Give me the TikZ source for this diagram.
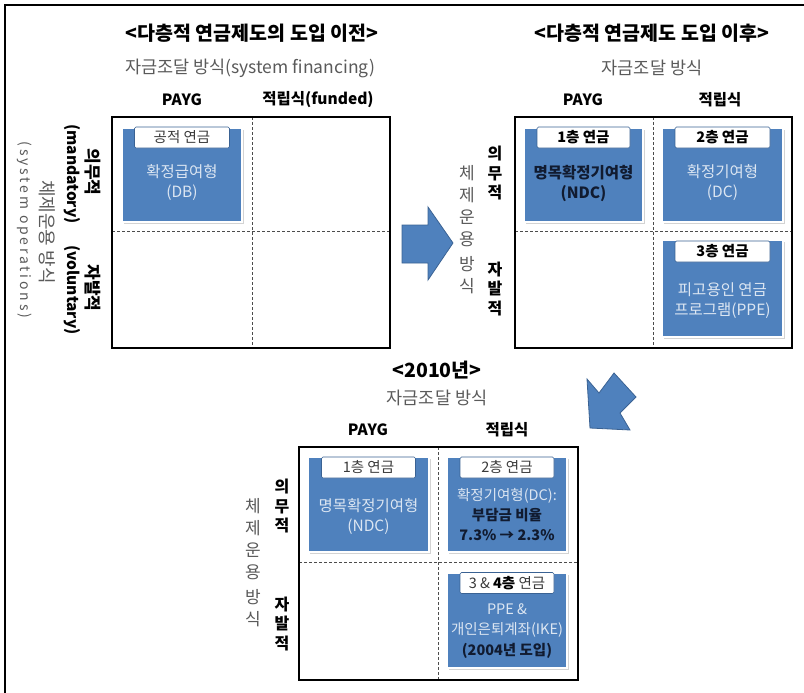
\documentclass[tikz,border=0pt]{standalone}
\usepackage{fontspec}
\setmainfont{Noto Sans CJK KR}
\usetikzlibrary{shadows}
\definecolor{pblue}{HTML}{4F81BD}
\definecolor{pborder}{HTML}{3A6293}
\definecolor{lighttxt}{HTML}{DCE6F2}
\definecolor{darktxt}{HTML}{111B30}
\definecolor{graytxt}{HTML}{5A5A5A}
\definecolor{tabtxt}{HTML}{3A3A3A}
\begin{document}
\begin{tikzpicture}[x=1pt,y=-1pt,
  titletext/.style={font=\bfseries\fontsize{19.5}{22}\selectfont, inner sep=0},
  subtitle/.style={font=\fontsize{17.5}{20}\selectfont, text=graytxt, inner sep=0},
  colhead/.style={font=\bfseries\fontsize{15.5}{18}\selectfont, inner sep=0},
  gridbox/.style={draw=black, line width=2.4pt, inner sep=0},
  divider/.style={draw=black!70, dash pattern=on 3pt off 2pt, line width=0.8pt},
  bluebox/.style={fill=pblue, draw=white, line width=1.2pt, inner sep=0,
     drop shadow={shadow xshift=1.5pt, shadow yshift=-1.8pt, opacity=0.35}},
  tabbox/.style={fill=white, draw=pborder, line width=0.6pt, rounded corners=1.5pt, inner sep=0,
     minimum height=21, font=\fontsize{14.5}{16}\selectfont, text=tabtxt},
  tabbold/.style={tabbox, font=\bfseries\fontsize{14.5}{16}\selectfont, text=black},
  bodylight/.style={text=lighttxt, align=center, inner sep=0, font=\fontsize{15.5}{20}\selectfont},
  bodydark/.style={text=darktxt, align=center, inner sep=0, font=\bfseries\fontsize{15.5}{20}\selectfont},
  vbold/.style={align=center, inner sep=0, font=\bfseries\fontsize{16}{19.5}\selectfont},
  vgray/.style={align=center, inner sep=0, text=graytxt, font=\fontsize{17}{22}\selectfont},
  bigarrow/.style={fill=pblue, draw=pborder, line width=0.8pt, line join=miter}
]
\useasboundingbox (0,0) rectangle (804,693);
\draw[line width=2.4pt] (5,693) -- (5,5) -- (804,5);

% ---------------- panel 1 ----------------
\node[titletext] (t1) at (252,33) {<다층적 연금제도의 도입 이전>};
\node[subtitle] (s1) at (250,68) {자금조달 방식(system financing)};
\node[colhead] (h1a) at (182,100) {PAYG};
\node[colhead] (h1b) at (318,100) {적립식(funded)};
\draw[divider] (252,117) -- (252,348);
\draw[divider] (112,231) -- (390,231);
\node[gridbox, minimum width=278, minimum height=231] (g1) at (251,232.5) {};
\node[vbold, rotate=-90, font=\bfseries\fontsize{17}{19}\selectfont] (p1m) at (93,172) {의무적};
\node[vbold, rotate=-90, font=\bfseries\fontsize{17}{19}\selectfont] (p1v) at (93,288) {자발적};
\node[vbold, rotate=-90, font=\bfseries\fontsize{15.5}{19}\selectfont] (p1mand) at (72,174) {(mandatory)};
\node[vbold, rotate=-90, font=\bfseries\fontsize{15.5}{19}\selectfont] (p1vol) at (72,290) {(voluntary)};
\node[vgray, rotate=-90, font=\fontsize{18}{20}\selectfont] (p1sys) at (47,232) {체제운용 방식};
\node[vgray, rotate=-90, font=\fontsize{14}{18}\selectfont\addfontfeatures{LetterSpace=20}] (p1sysen) at (25,230) {(system operations)};

\node[bluebox, minimum width=120, minimum height=94] (p1db) at (182,175) {};
\node[tabbox, minimum width=95] (p1dbtab) at (182,137.5) {공적 연금};
\node[bodylight] (p1dbtext) at (182,183) {확정급여형\\(DB)};

% ---------------- arrow 1 ----------------
\draw[bigarrow] (402,225) -- (428,225) -- (428,207) -- (453,243) -- (428,280) -- (428,263) -- (402,263) -- cycle;

% ---------------- panel 2 ----------------
\node[titletext] (t2) at (652,33) {<다층적 연금제도 도입 이후>};
\node[subtitle] (s2) at (652,68) {자금조달 방식};
\node[colhead] (h2a) at (583,100) {PAYG};
\node[colhead] (h2b) at (720,100) {적립식};
\draw[divider] (653,117) -- (653,348);
\draw[divider] (515,231) -- (792,231);
\node[gridbox, minimum width=277, minimum height=231] (g2) at (653.5,232.5) {};
\node[vbold] (p2m) at (495,173) {의\\무\\적};
\node[vbold] (p2v) at (495,289) {자\\발\\적};
\node[vgray] (p2sys) at (467,230) {체\\제\\운\\용\\[3pt]방\\식};

\node[bluebox, minimum width=119, minimum height=94] (p2ndc) at (583.5,175) {};
\node[tabbold, minimum width=93] (p2ndctab) at (583.5,137.5) {1층 연금};
\node[bodydark] (p2ndctext) at (583.5,183) {명목확정기여형\\(NDC)};

\node[bluebox, minimum width=121, minimum height=94] (p2dc) at (722.5,175) {};
\node[tabbold, minimum width=95] (p2dctab) at (722.5,137.5) {2층 연금};
\node[bodylight] (p2dctext) at (722.5,183) {확정기여형\\(DC)};

\node[bluebox, minimum width=121, minimum height=97] (p2ppe) at (722.5,288.5) {};
\node[tabbold, minimum width=95] (p2ppetab) at (722.5,251.5) {3층 연금};
\node[bodylight] (p2ppetext) at (722.5,301) {피고용인 연금\\프로그램(PPE)};

% ---------------- arrow 2 ----------------
\draw[bigarrow] (614,373) -- (636,397) -- (620,413) -- (630,430) -- (590,428) -- (587,379) -- (599,393) -- cycle;

% ---------------- panel 3 ----------------
\node[titletext] (t3) at (437,370) {<2010년>};
\node[subtitle] (s3) at (437,398) {자금조달 방식};
\node[colhead] (h3a) at (368,430) {PAYG};
\node[colhead] (h3b) at (507,430) {적립식};
\draw[divider] (438,447) -- (438,680);
\draw[divider] (299,562) -- (578,562);
\node[gridbox, minimum width=279, minimum height=233] (g3) at (438.5,563.5) {};
\node[vbold] (p3m) at (282,506) {의\\무\\적};
\node[vbold] (p3v) at (282,624) {자\\발\\적};
\node[vgray] (p3sys) at (253,563) {체\\제\\운\\용\\[3pt]방\\식};

\node[bluebox, minimum width=121, minimum height=95] (p3ndc) at (368.5,504.5) {};
\node[tabbox, minimum width=94] (p3ndctab) at (368.5,467.5) {1층 연금};
\node[bodylight] (p3ndctext) at (368.5,517) {명목확정기여형\\(NDC)};

\node[bluebox, minimum width=120, minimum height=95] (p3dc) at (507,504.5) {};
\node[tabbox, minimum width=94] (p3dctab) at (507,467.5) {2층 연금};
\node[align=center, inner sep=0, font=\fontsize{14.5}{20}\selectfont] (p3dctext) at (507,515)
  {{\color{lighttxt}확정기여형(DC):}\\{\color{darktxt}\bfseries 부담금 비율}\\{\color{darktxt}\bfseries 7.3\% → 2.3\%}};

\node[bluebox, minimum width=120, minimum height=95] (p3ike) at (507,620.5) {};
\node[tabbox, minimum width=94] (p3iketab) at (507,583) {3 \& {\bfseries\color{black}4층} 연금};
\node[align=center, inner sep=0, font=\fontsize{14.5}{20.5}\selectfont] (p3iketext) at (507,631)
  {{\color{lighttxt}PPE \&}\\{\color{lighttxt}개인은퇴계좌(IKE)}\\{\color{darktxt}\bfseries (2004년 도입)}};
\end{tikzpicture}
\end{document}
